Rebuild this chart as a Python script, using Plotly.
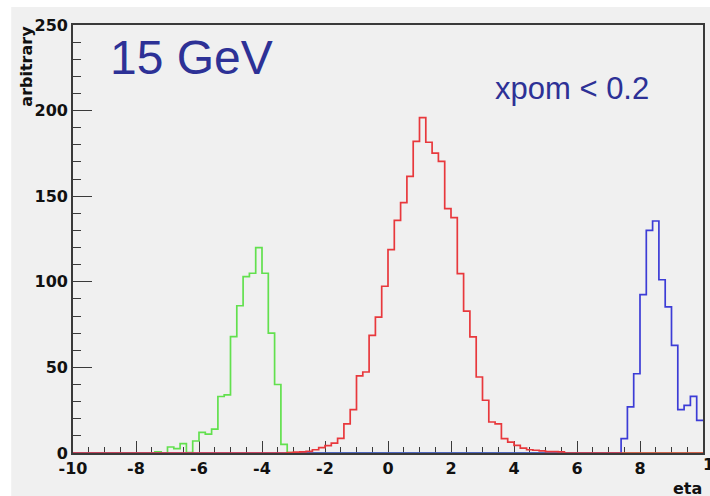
import numpy as np
import plotly.graph_objects as go

# ---------------- data ----------------
eta_min, eta_max, n_bins = -10.0, 10.0, 100

green_counts = [
    0, 0, 0, 0, 0, 0, 0, 0, 0, 0,
    0, 0, 0, 0.6, 0, 3.5, 2.5, 5.5, 0.3, 7,
    12, 11, 14, 33, 34, 68, 86, 103, 105, 120,
    105, 70, 40, 5, 0.3, 0, 0, 0, 0, 0,
    0, 0, 0, 0, 0, 0, 0, 0, 0, 0,
    0, 0, 0, 0, 0, 0, 0, 0, 0, 0,
    0, 0, 0, 0, 0, 0, 0, 0, 0, 0,
    0, 0, 0, 0, 0, 0, 0, 0, 0, 0,
    0, 0, 0, 0, 0, 0, 0, 0, 0, 0,
    0, 0, 0, 0, 0, 0, 0, 0, 0, 0,
]

red_counts = [
    0, 0, 0, 0, 0, 0, 0, 0, 0, 0,
    0, 0, 0, 0, 0, 0, 0, 0, 0, 0,
    0, 0, 0, 0, 0, 0, 0, 0, 0, 0,
    0, 0, 0, 0, 0.3, 0.5, 0.6, 0.9, 1.9, 3.1,
    4.3, 5.8, 8.5, 17, 25.3, 45, 47.3, 68.7, 79.4, 97.4,
    118.8, 135.9, 146.2, 161.6, 182, 195.9, 181.5, 175.2, 170.4, 142.7,
    137.5, 104.8, 82.9, 67.8, 44.4, 30.8, 18.1, 17, 8.4, 6.4,
    4.5, 2.9, 1.9, 1.6, 1.2, 0.8, 0.8, 0.6, 0, 0,
    0, 0, 0, 0, 0, 0, 0, 0, 0, 0,
    0, 0, 0, 0, 0, 0, 0, 0, 0, 0,
]

blue_counts = [
    0, 0, 0, 0, 0, 0, 0, 0, 0, 0,
    0, 0, 0, 0, 0, 0, 0, 0, 0, 0,
    0, 0, 0, 0, 0, 0, 0, 0, 0, 0,
    0, 0, 0, 0, 0, 0, 0, 0, 0, 0,
    0, 0, 0, 0, 0, 0, 0, 0, 0, 0,
    0, 0, 0, 0, 0, 0, 0, 0, 0, 0,
    0, 0, 0, 0, 0, 0, 0, 0, 0, 0,
    0, 0, 0, 0, 0, 0, 0, 0, 0, 0,
    0, 0, 0, 0, 0, 0, 0, 8.4, 26.9, 46.3,
    92.5, 130, 135.5, 101.2, 85.3, 62.9, 25.3, 27.8, 33.1, 19.1,
]

x_tick_vals = [-10, -8, -6, -4, -2, 0, 2, 4, 6, 8, 10]
x_tick_text = ["-10", "-8", "-6", "-4", "-2", "0", "2", "4", "6", "8", ""]
y_tick_vals = [0, 50, 100, 150, 200, 250]

energy_label = "15 GeV"
cut_label = "xpom < 0.2"
x_title = "eta"
y_title = "arbitrary"

# ---------------- styles ----------------
GREEN = "#62e04e"
RED = "#e8383c"
BLUE = "#3c3cd6"
TEXT_BLUE = "#2d3196"
PANEL = "#f0f0f0"
AXIS = "#3a3a3a"
LABEL_FONT = dict(family="DejaVu Sans", size=16, color="#111111", weight="bold")

edges = np.linspace(eta_min, eta_max, n_bins + 1)


def step_trace(counts, color):
    y = list(counts) + [counts[-1]]
    return go.Scatter(
        x=edges, y=y, mode="lines",
        line=dict(color=color, width=1.7, shape="hv"),
        hoverinfo="skip", showlegend=False,
    )


fig = go.Figure()
fig.add_trace(step_trace(green_counts, GREEN))
fig.add_trace(step_trace(blue_counts, BLUE))
fig.add_trace(step_trace(red_counts, RED))

W, H = 710, 496
ml, mr, mt, mb = 73, 5, 25, 43
pw, ph = W - ml - mr, H - mt - mb


def px_x(p):
    return (p - ml) / pw


def px_y(p):
    return (H - mb - p) / ph


fig.update_layout(
    width=W, height=H,
    margin=dict(l=ml, r=mr, t=mt, b=mb, pad=0),
    paper_bgcolor="white",
    plot_bgcolor=PANEL,
    showlegend=False,
    shapes=[dict(
        type="rect", xref="paper", yref="paper", layer="below",
        x0=px_x(11), x1=px_x(712), y0=px_y(498), y1=px_y(7),
        fillcolor=PANEL, line=dict(width=0),
    )],
)

fig.update_xaxes(
    range=[eta_min, eta_max], showgrid=False, zeroline=False,
    showline=True, linecolor=AXIS, linewidth=1.6, mirror=True,
    ticks="inside", ticklen=12, tickwidth=1.3, tickcolor=AXIS,
    tickvals=x_tick_vals, ticktext=x_tick_text,
    tickfont=LABEL_FONT, layer="below traces",
    minor=dict(ticks="inside", dtick=0.5, tick0=-10, ticklen=6, tickwidth=1.2, tickcolor=AXIS),
)
fig.update_yaxes(
    range=[0, 250], showgrid=False, zeroline=False,
    showline=True, linecolor=AXIS, linewidth=1.6, mirror=True,
    ticks="inside", ticklen=19, tickwidth=1.3, tickcolor=AXIS,
    tickvals=y_tick_vals, tickfont=LABEL_FONT, layer="below traces",
    minor=dict(ticks="inside", dtick=10, tick0=0, ticklen=8, tickwidth=1.2, tickcolor=AXIS),
)

fig.add_annotation(
    text=energy_label, xref="paper", yref="paper",
    x=px_x(108), y=px_y(57), xanchor="left", yanchor="middle",
    showarrow=False,
    font=dict(family="Liberation Sans", size=48, color=TEXT_BLUE),
)
fig.add_annotation(
    text=cut_label, xref="paper", yref="paper",
    x=px_x(494), y=px_y(88), xanchor="left", yanchor="middle",
    showarrow=False,
    font=dict(family="Liberation Sans", size=31, color=TEXT_BLUE),
)
fig.add_annotation(
    text=y_title, xref="paper", yref="paper",
    x=px_x(26), y=px_y(24), xanchor="center", yanchor="top",
    textangle=-90, showarrow=False, font=LABEL_FONT,
)
fig.add_annotation(
    text=x_title, xref="paper", yref="paper",
    x=px_x(706), y=px_y(488), xanchor="right", yanchor="middle",
    showarrow=False, font=LABEL_FONT,
)
fig.add_annotation(
    text=str(x_tick_vals[-1]), xref="paper", yref="paper",
    x=px_x(703), y=px_y(465), xanchor="left", yanchor="middle",
    showarrow=False, font=LABEL_FONT,
)

fig.write_html("out.html")
